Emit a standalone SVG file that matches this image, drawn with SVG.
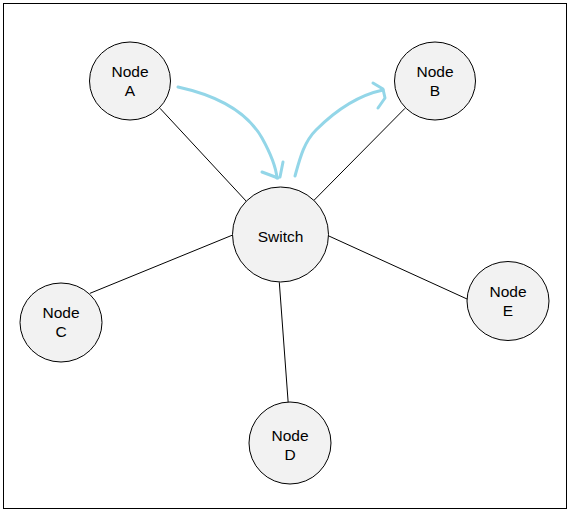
<svg xmlns="http://www.w3.org/2000/svg" width="571" height="513" viewBox="0 0 571 513">
<style>
.node{fill:#f2f2f2;stroke:#000;stroke-width:1}
.lbl{font-family:"Liberation Sans",Arial,sans-serif;font-size:15.5px;fill:#000;text-anchor:middle}
.edge{stroke:#000;stroke-width:1;fill:none}
.sketch{stroke:#93d6e8;stroke-width:3;fill:none;stroke-linecap:round;stroke-linejoin:round}
</style>
<rect x="3.5" y="3.5" width="563" height="505" fill="#fff" stroke="#000" stroke-width="1"/>
<g id="connectors">
<line class="edge" x1="160" y1="108.3" x2="246.7" y2="201.7"/>
<line class="edge" x1="405" y1="108.3" x2="313.3" y2="201"/>
<line class="edge" x1="90" y1="293.3" x2="232.7" y2="235"/>
<line class="edge" x1="326.7" y1="235" x2="467.7" y2="299.3"/>
<line class="edge" x1="279.3" y1="282.3" x2="288.3" y2="404.3"/>
</g>
<g id="nodeA"><ellipse class="node" cx="130" cy="81" rx="40.5" ry="39"/><text class="lbl" x="130" y="76.5">Node</text><text class="lbl" x="130" y="95.5">A</text></g>
<g id="nodeB"><ellipse class="node" cx="435" cy="81" rx="40.5" ry="39"/><text class="lbl" x="435" y="76.5">Node</text><text class="lbl" x="435" y="95.5">B</text></g>
<g id="switch"><ellipse class="node" cx="280.5" cy="234.5" rx="48" ry="47.5"/><text class="lbl" x="280.5" y="241.5">Switch</text></g>
<g id="nodeC"><ellipse class="node" cx="61" cy="322.5" rx="41" ry="39.5"/><text class="lbl" x="61" y="318">Node</text><text class="lbl" x="61" y="337">C</text></g>
<g id="nodeD"><ellipse class="node" cx="290" cy="443" rx="41" ry="41"/><text class="lbl" x="290" y="441">Node</text><text class="lbl" x="290" y="460">D</text></g>
<g id="nodeE"><ellipse class="node" cx="508" cy="301" rx="41" ry="39.5"/><text class="lbl" x="508" y="297">Node</text><text class="lbl" x="508" y="316">E</text></g>
<g id="sketch-arrows">
<path class="sketch" d="M178,87 C210,94 245,108 262,138 C272,156 276,168 277,178"/>
<path class="sketch" d="M262,172 L278,178 M283,162 L280,177"/>
<path class="sketch" d="M295,176 C300,158 304,142 316,130 C332,114 355,96 383,90"/>
<path class="sketch" d="M373,83 L383,89 L385,98 L378,108"/>
</g>
</svg>
